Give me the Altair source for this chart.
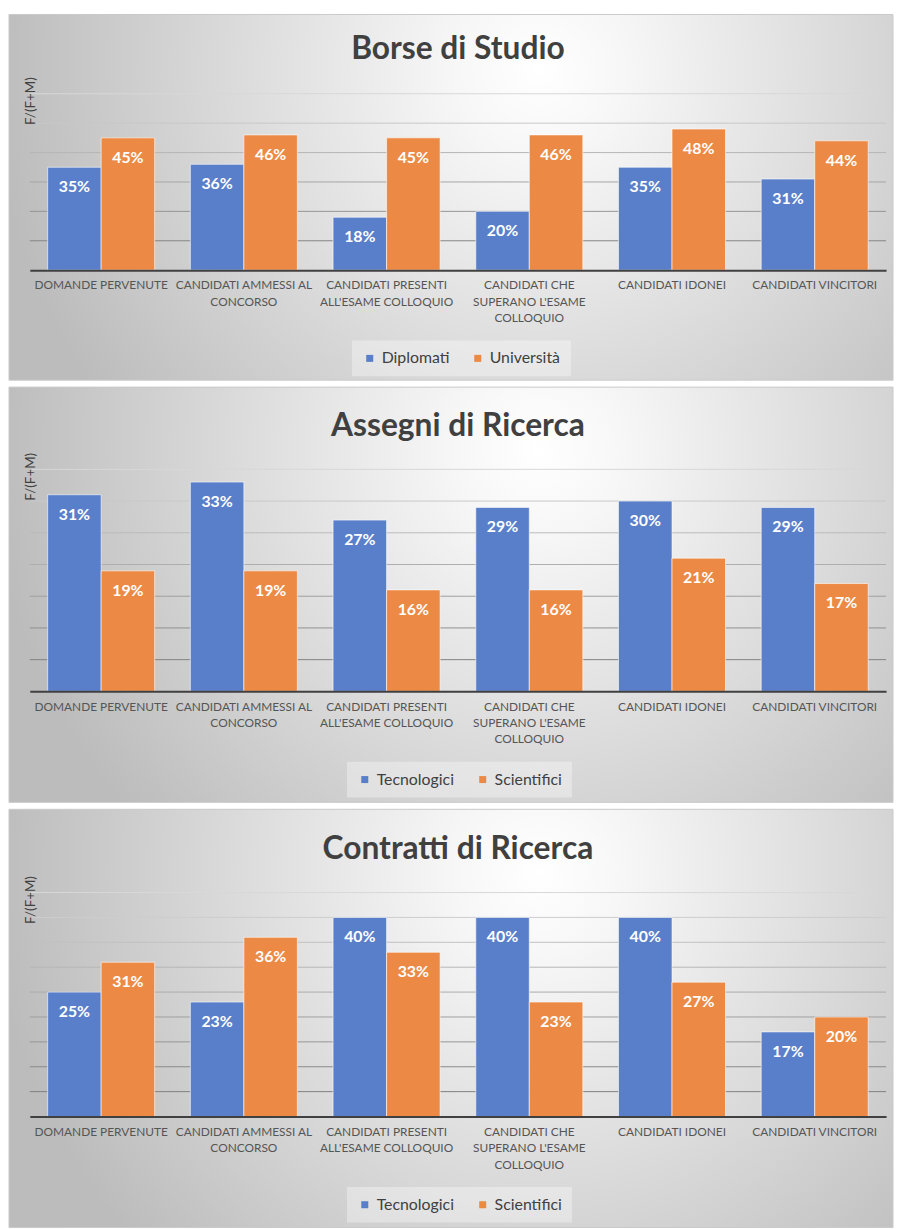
import altair as alt
import pandas as pd

# ---------------- data ----------------
category_lines = [
    ["DOMANDE PERVENUTE"],
    ["CANDIDATI AMMESSI AL", "CONCORSO"],
    ["CANDIDATI PRESENTI", "ALL'ESAME COLLOQUIO"],
    ["CANDIDATI CHE", "SUPERANO L'ESAME", "COLLOQUIO"],
    ["CANDIDATI IDONEI"],
    ["CANDIDATI VINCITORI"],
]

titles = ["Borse di Studio", "Assegni di Ricerca", "Contratti di Ricerca"]
series_names = [
    ["Diplomati", "Università"],
    ["Tecnologici", "Scientifici"],
    ["Tecnologici", "Scientifici"],
]

borse_diplomati = [35, 36, 18, 20, 35, 31]
borse_universita = [45, 46, 45, 46, 48, 44]
assegni_tecnologici = [31, 33, 27, 29, 30, 29]
assegni_scientifici = [19, 19, 16, 16, 21, 17]
contratti_tecnologici = [25, 23, 40, 40, 40, 17]
contratti_scientifici = [31, 36, 33, 23, 27, 20]

y_max = [60, 35, 45]
grid_ticks = [
    [10, 20, 30, 40, 50, 60],
    [5, 10, 15, 20, 25, 30, 35],
    [5, 10, 15, 20, 25, 30, 35, 40, 45],
]
y_title = "F/(F+M)"

# ---------------- style ----------------
W = 864
heights = [178, 224, 226]
top_pad = [80, 83, 84]
bot_pad = [111, 112, 112]
title_y = [-45, -44, -44]
legend_x = [325, 320, 320]
BLUE = "#5A7FCA"
ORANGE = "#EC8A45"
FONT = "Lato"

cats = ["\n".join(l) for l in category_lines]
values = [
    (borse_diplomati, borse_universita),
    (assegni_tecnologici, assegni_scientifici),
    (contratti_tecnologici, contratti_scientifici),
]


def panel(i):
    h = heights[i]
    names = series_names[i]
    a, b = values[i]
    df = pd.DataFrame({
        "cat": cats + cats,
        "serie": [names[0]] * len(cats) + [names[1]] * len(cats),
        "val": a + b,
    })
    gdf = pd.DataFrame({"val": grid_ticks[i]})

    total_h = top_pad[i] + h + bot_pad[i]
    total_w = 21 + W + 7
    big = max(total_w, total_h)
    cy = (0.15 * total_h + (big - total_h) / 2) / big
    cx = (0.60 * total_w + (big - total_w) / 2) / big
    grad = alt.RadialGradient(
        gradient="radial",
        stops=[
            alt.GradientStop(offset=0, color="#ffffff"),
            alt.GradientStop(offset=0.15, color="#f7f7f7"),
            alt.GradientStop(offset=1, color="#bcbcbc"),
        ],
        x1=cx, y1=cy, r1=0, x2=cx, y2=cy, r2=0.62,
    )

    xenc = alt.X(
        "cat:N", sort=cats,
        scale=alt.Scale(paddingInner=0.25, paddingOuter=0.125),
        axis=alt.Axis(
            title=None, labelExpr="split(datum.label, '\\n')", labelFont=FONT,
            labelFontSize=12, labelColor="#555555", labelLineHeight=16.5,
            labelPadding=10, labelAngle=0, labelLimit=300, ticks=False,
            domainColor="#404040", domainWidth=2, grid=False, zindex=1,
        ),
    )
    yscale = alt.Scale(domain=[0, y_max[i]], nice=False, zero=True)
    yenc = alt.Y(
        "val:Q", scale=yscale,
        axis=alt.Axis(
            title=y_title, labels=False, ticks=False, domain=False, grid=False,
            titleFont=FONT, titleFontSize=13.5, titleFontWeight="normal",
            titleColor="#404040", titleAngle=270, titleX=1, titleY=7,
            titleAlign="center", titleBaseline="middle", zindex=1,
        ),
    )
    xoff = alt.XOffset("serie:N", scale=alt.Scale(domain=names, paddingInner=0))
    color = alt.Color(
        "serie:N",
        scale=alt.Scale(domain=names, range=[BLUE, ORANGE]),
        legend=alt.Legend(
            title=None, orient="none", legendX=legend_x[i],
            legendY=h + 71, direction="horizontal", symbolType="square",
            symbolSize=50, symbolStrokeWidth=0, symbolOpacity=1,
            labelFont=FONT, labelFontSize=16, labelColor="#404040",
            labelOffset=4, columnPadding=20, padding=10,
            fillColor="rgba(255,255,255,0.35)",
        ),
    )

    bg = alt.Chart(pd.DataFrame({"k": [0]})).mark_rect(
        fill=grad, stroke="#c9c9c9", strokeWidth=1
    ).encode(
        x=alt.value(-21), x2=alt.value(W + 7),
        y=alt.value(-top_pad[i]), y2=alt.value(h + bot_pad[i]),
    )

    grid = alt.Chart(gdf).mark_rule(strokeWidth=1).encode(
        y=yenc, x=alt.value(0), x2=alt.value(W),
        stroke=alt.Stroke(
            "val:Q", scale=alt.Scale(domain=[0, y_max[i]], range=["#767676", "#d8d8d8"]),
            legend=None,
        ),
    )

    bars = alt.Chart(df).mark_bar(
        stroke="#ffffff", strokeWidth=1, strokeOpacity=0.6
    ).encode(x=xenc, xOffset=xoff, y=yenc, color=color)

    labels = alt.Chart(df).transform_calculate(
        lab="datum.val + '%'"
    ).mark_text(
        color="white", font=FONT, fontWeight="bold", fontSize=16,
        baseline="middle", align="center", dy=20,
    ).encode(x=xenc, xOffset=xoff, y=yenc, text="lab:N")

    ttl = alt.Chart(pd.DataFrame({"t": [titles[i]]})).mark_text(
        font=FONT, fontSize=32, fontWeight="bold", color="#404040",
        baseline="middle", align="center",
    ).encode(x=alt.value(W / 2), y=alt.value(title_y[i]), text="t:N")

    return alt.layer(bg, grid, bars, labels, ttl).properties(width=W, height=h)


chart = alt.vconcat(panel(0), panel(1), panel(2), spacing=5).resolve_scale(
    x="independent", y="independent", color="independent",
    xOffset="independent", stroke="independent",
).resolve_legend(color="independent").configure_view(
    strokeWidth=0
).properties(padding=0, background="#ffffff")

chart.save("out.html", embed_options={"renderer": "svg", "actions": False})
